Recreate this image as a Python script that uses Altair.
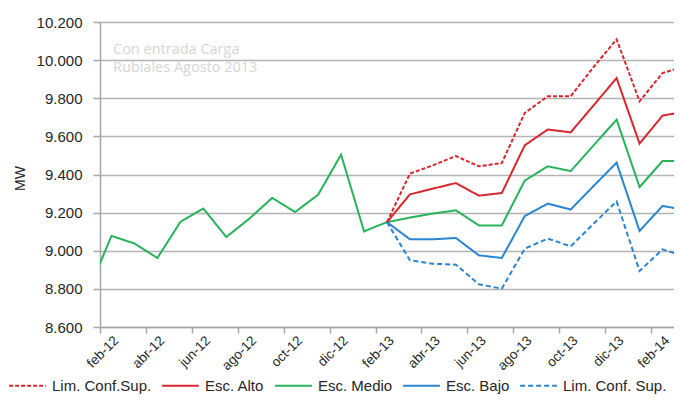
import json
import altair as alt
import pandas as pd

# ---- data ----
months = ["ene-12", "feb-12", "mar-12", "abr-12", "may-12", "jun-12", "jul-12", "ago-12",
          "sep-12", "oct-12", "nov-12", "dic-12", "ene-13", "feb-13", "mar-13", "abr-13",
          "may-13", "jun-13", "jul-13", "ago-13", "sep-13", "oct-13", "nov-13", "dic-13",
          "ene-14", "feb-14", "mar-14"]

# Esc. Medio: history + central forecast (ene-12 .. mar-14)
esc_medio = [8790, 9078, 9038, 8962, 9151, 9222, 9072, 9168, 9277, 9203, 9294, 9504,
             9102, 9150, 9174, 9195, 9212, 9133, 9133, 9368, 9443, 9418, 9553, 9688,
             9334, 9471, 9471]

forecast_start = "feb-13"   # forecast scenarios feb-13 .. mar-14
lim_sup_alto = [9150, 9405, 9448, 9497, 9443, 9460, 9723, 9810, 9810, 9964, 10109, 9784, 9932, 9970]
esc_alto = [9150, 9296, 9326, 9355, 9289, 9303, 9553, 9636, 9621, 9763, 9906, 9562, 9709, 9730]
esc_bajo = [9150, 9060, 9060, 9067, 8976, 8962, 9182, 9247, 9216, 9340, 9462, 9104, 9235, 9214]
lim_inf_bajo = [9150, 8950, 8932, 8927, 8824, 8801, 9011, 9064, 9023, 9142, 9259, 8894, 9007, 8970]

tick_labels = ["feb-12", "abr-12", "jun-12", "ago-12", "oct-12", "dic-12", "feb-13",
               "abr-13", "jun-13", "ago-13", "oct-13", "dic-13", "feb-14"]

series_names = ["Lim. Conf.Sup.", "Esc. Alto", "Esc. Medio", "Esc. Bajo", "Lim. Conf. Sup."]
series_colors = ["#d7262d", "#d7262d", "#27b35a", "#2a85d0", "#2a85d0"]
series_dashes = [[4, 2], [1, 0], [1, 0], [1, 0], [5, 3]]

watermark_lines = ["Con entrada Carga", "Rubiales Agosto 2013"]

# ---- build long table ----
rows = []
first_month = months.index("feb-12")
for i, v in enumerate(esc_medio):
    rows.append({"mes": months[i], "t": i - first_month + 0.5, "mw": v, "serie": "Esc. Medio"})
s0 = months.index(forecast_start)
for name, vals in [("Lim. Conf.Sup.", lim_sup_alto), ("Esc. Alto", esc_alto),
                   ("Esc. Bajo", esc_bajo), ("Lim. Conf. Sup.", lim_inf_bajo)]:
    for k, v in enumerate(vals):
        i = s0 + k
        rows.append({"mes": months[i], "t": i - first_month + 0.5, "mw": v, "serie": name})
df = pd.DataFrame(rows)

n_ticks = len(tick_labels)
x_label_expr = json.dumps(tick_labels) + "[round(datum.value / 2)]"

lines = alt.Chart(df).mark_line(strokeWidth=2, clip=True).encode(
    x=alt.X("t:Q",
            scale=alt.Scale(domain=[0, 25], nice=False, zero=False),
            axis=alt.Axis(values=list(range(0, 2 * n_ticks, 2)), labelExpr=x_label_expr,
                          title=None, grid=False, labelAngle=-45, labelAlign="right",
                          labelBaseline="middle", labelOffset=16, labelPadding=5, tickSize=6,
                          labelFontSize=13.5, labelFlush=False, labelOverlap=False)),
    y=alt.Y("mw:Q",
            scale=alt.Scale(domain=[8600, 10200], nice=False, zero=False),
            axis=alt.Axis(values=list(range(8600, 10201, 200)),
                          labelExpr="replace(format(datum.value, ',d'), ',', '.')",
                          title="MW", titleX=-80, titleY=156, titleBaseline="middle",
                          titleAngle=270, titleFontSize=14, titleFontWeight="normal",
                          grid=True, tickSize=7, labelPadding=11, labelFontSize=15)),
    color=alt.Color("serie:N", scale=alt.Scale(domain=series_names, range=series_colors),
                    legend=alt.Legend(title=None)),
    strokeDash=alt.StrokeDash("serie:N", scale=alt.Scale(domain=series_names, range=series_dashes),
                              legend=alt.Legend(title=None)),
    order=alt.Order("t:Q"),
)

wm = alt.Chart(pd.DataFrame({"txt": ["\n".join(watermark_lines)]})).mark_text(
    align="left", baseline="top", font="Open Sans", fontSize=14.5, color="#d6d6d6",
    lineBreak="\n", lineHeight=18
).encode(x=alt.value(13), y=alt.value(21), text="txt:N")

chart = alt.layer(wm, lines).properties(
    width=574, height=305,
    autosize=alt.AutoSizeParams(type="none"),
    padding={"left": 92, "top": 14, "right": 0, "bottom": 67},
).configure_view(strokeWidth=0).configure_axis(
    domainColor="#a6a6a6", tickColor="#a6a6a6", gridColor="#b3b3b3", gridWidth=1.5,
    domainWidth=1.5, tickWidth=1.5, labelFont="Liberation Sans", titleFont="Liberation Sans",
    labelColor="#262626", titleColor="#262626",
).configure_legend(
    orient="none", legendX=-92, legendY=344, direction="horizontal", columns=5,
    symbolType="stroke", symbolSize=1350, symbolStrokeWidth=2, labelFontSize=15,
    labelFont="Liberation Sans", labelColor="#262626", labelOffset=5, columnPadding=6,
    symbolOffset=0, padding=0,
)

chart.save("out.html", embed_options={"renderer": "svg", "actions": False})
